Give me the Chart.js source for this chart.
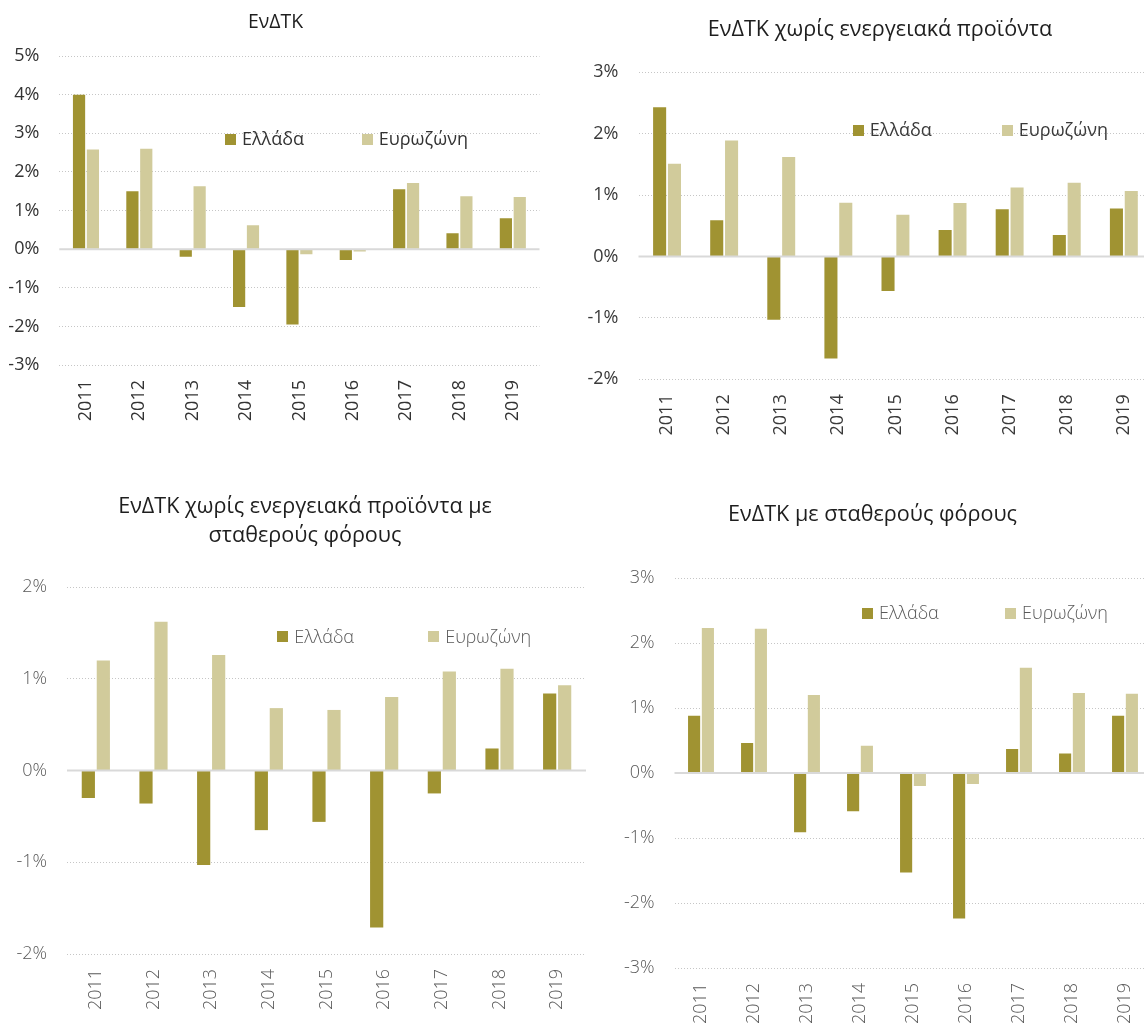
<!DOCTYPE html>
<html lang="el">
<head>
<meta charset="utf-8">
<title>ΕνΔΤΚ: Ελλάδα και Ευρωζώνη, 2011-2019</title>
<script src="https://cdn.jsdelivr.net/npm/chart.js@4.4.1/dist/chart.umd.min.js"></script>
<style>
  html, body { margin: 0; padding: 0; background: #fff; overflow: hidden; }
  body { width: 1144px; height: 1024px; position: relative; }
  canvas { position: absolute; }
</style>
</head>
<body>
<canvas id="c1"></canvas>
<canvas id="c2"></canvas>
<canvas id="c3"></canvas>
<canvas id="c4"></canvas>
<script>
// Years on the category axis
const years = ['2011', '2012', '2013', '2014', '2015', '2016', '2017', '2018', '2019'];
const seriesNames = ['Ελλάδα', 'Ευρωζώνη'];

// Annual change, %
const hicpGreece = [4.0, 1.5, -0.2, -1.5, -1.95, -0.28, 1.55, 0.41, 0.8];
const hicpEuro   = [2.58, 2.6, 1.63, 0.62, -0.13, -0.06, 1.71, 1.37, 1.35];

const coreGreece = [2.43, 0.59, -1.03, -1.66, -0.56, 0.43, 0.77, 0.35, 0.78];
const coreEuro   = [1.51, 1.89, 1.62, 0.875, 0.68, 0.87, 1.125, 1.2, 1.065];

const coreTaxGreece = [-0.3, -0.36, -1.03, -0.65, -0.56, -1.71, -0.25, 0.24, 0.84];
const coreTaxEuro   = [1.2, 1.62, 1.26, 0.68, 0.66, 0.8, 1.08, 1.11, 0.93];

const hicpTaxGreece = [0.88, 0.46, -0.91, -0.59, -1.53, -2.24, 0.37, 0.3, 0.88];
const hicpTaxEuro   = [2.23, 2.22, 1.2, 0.42, -0.2, -0.17, 1.62, 1.23, 1.22];

// Titles and value-axis ranges
const titles = [
  ['ΕνΔΤΚ'],
  ['ΕνΔΤΚ χωρίς ενεργειακά προϊόντα'],
  ['ΕνΔΤΚ χωρίς ενεργειακά προϊόντα με', 'σταθερούς φόρους'],
  ['ΕνΔΤΚ με σταθερούς φόρους']
];
const yRanges = [[-3, 5], [-2, 3], [-2, 2], [-3, 3]];

const GREECE = '#a09332';
const EURO = '#d1cb9b';
const FONT = '"Open Sans", "Noto Sans", "DejaVu Sans", sans-serif';

// Heading drawn at a fixed point of the canvas, so it can sit off the plot centre
const headingPlugin = {
  id: 'heading',
  afterDraw(chart, args, opts) {
    const { ctx } = chart;
    ctx.save();
    ctx.font = `normal ${opts.size}px ${FONT}`;
    ctx.fillStyle = opts.color;
    ctx.textAlign = 'center';
    ctx.textBaseline = 'middle';
    opts.text.forEach((line, i) => ctx.fillText(line, opts.cx, opts.cy + i * opts.lineHeight));
    ctx.restore();
  }
};

// Solid zero line plus a legend placed inside the plot area
const insidePlugin = {
  id: 'inside',
  afterDatasetsDraw(chart, args, opts) {
    const { ctx, chartArea: a, scales: { y } } = chart;
    const y0 = y.getPixelForValue(0);
    ctx.save();
    ctx.strokeStyle = '#d9d9d9';
    ctx.lineWidth = 2;
    ctx.beginPath();
    ctx.moveTo(a.left, y0);
    ctx.lineTo(a.right, y0);
    ctx.stroke();

    ctx.font = `${opts.weight} 18px ${FONT}`;
    ctx.textBaseline = 'middle';
    ctx.textAlign = 'left';
    const ly = a.top + opts.fy * a.height;
    chart.data.datasets.forEach((ds, i) => {
      const lx = a.left + opts.fx[i] * a.width;
      ctx.fillStyle = ds.backgroundColor;
      ctx.fillRect(Math.round(lx), Math.round(ly - 5.5), 11, 11);
      ctx.fillStyle = opts.color;
      ctx.fillText(ds.label, lx + 17, ly + 1);
    });
    ctx.restore();
  }
};

function makeChart(id, box, greece, euro, title, range, look) {
  const cv = document.getElementById(id);
  cv.width = box.w;
  cv.height = box.h;
  cv.style.left = box.x + 'px';
  cv.style.top = box.y + 'px';
  cv.style.width = box.w + 'px';
  cv.style.height = box.h + 'px';

  return new Chart(cv, {
    type: 'bar',
    data: {
      labels: years,
      datasets: [
        { label: seriesNames[0], data: greece, backgroundColor: GREECE },
        { label: seriesNames[1], data: euro, backgroundColor: EURO }
      ]
    },
    plugins: [insidePlugin, headingPlugin],
    options: {
      responsive: false,
      animation: false,
      devicePixelRatio: 1,
      datasets: { bar: { barPercentage: 0.88, categoryPercentage: 0.52 } },
      layout: {
        autoPadding: false,
        padding: { left: 0, right: box.padR, top: box.padT, bottom: 0 }
      },
      plugins: {
        legend: { display: false },
        tooltip: { enabled: false },
        title: { display: false },
        heading: {
          text: title, cx: box.tx, cy: box.ty, lineHeight: 29,
          size: look.titleSize, color: '#1e1e1e'
        },
        inside: { fx: box.legendX, fy: box.legendY, color: look.tickColor, weight: look.weight }
      },
      scales: {
        x: {
          grid: { display: false, drawTicks: false },
          border: { display: false },
          ticks: {
            autoSkip: false, minRotation: 90, maxRotation: 90, padding: 15,
            color: look.tickColor,
            font: { family: FONT, size: 18, weight: look.weight }
          },
          afterFit(s) { s.height = box.xh; s.paddingLeft = 0; s.paddingRight = 0; }
        },
        y: {
          min: range[0], max: range[1],
          grid: {
            drawTicks: false,
            lineWidth: 1,
            color: (c) => (c.tick && c.tick.value === 0 ? 'rgba(0,0,0,0)' : '#c6c6c6')
          },
          border: { display: false, dash: [1, 2] },
          ticks: {
            stepSize: 1, padding: 20,
            color: look.tickColor,
            font: { family: FONT, size: 18, weight: look.weight },
            callback: (v) => v + '%'
          },
          afterFit(s) { s.width = box.yw; s.paddingTop = 0; s.paddingBottom = 0; }
        }
      }
    }
  });
}

const darkLook = { titleSize: 21.6, tickColor: '#3a3a3a', weight: 'normal' };
const lightLook = { titleSize: 21.6, tickColor: '#595959', weight: '300' };

function drawAll() {
  makeChart('c1',
    { x: 0, y: 0, w: 550, h: 425, padR: 10.5, padT: 56, yw: 59.3, xh: 60, tx: 275.5, ty: 22,
      legendX: [0.345, 0.63], legendY: 0.269 },
    hicpGreece, hicpEuro, titles[0], yRanges[0],
    Object.assign({}, darkLook, { titleSize: 19.4, tickColor: '#333333' }));

  makeChart('c2',
    { x: 580, y: 0, w: 580, h: 440, padR: 7.6, padT: 72.3, yw: 58.5, xh: 60.7, tx: 300, ty: 30,
      legendX: [0.417, 0.707], legendY: 0.189 },
    coreGreece, coreEuro, titles[1], yRanges[1], darkLook);

  makeChart('c3',
    { x: 0, y: 470, w: 600, h: 544, padR: 14, padT: 117, yw: 67, xh: 60, tx: 305, ty: 36.5,
      legendX: [0.405, 0.696], legendY: 0.135 },
    coreTaxGreece, coreTaxEuro, titles[2], yRanges[2], lightLook);

  makeChart('c4',
    { x: 580, y: 470, w: 580, h: 554, padR: 8.5, padT: 108, yw: 94.5, xh: 56, tx: 292.5, ty: 45,
      legendX: [0.393, 0.693], legendY: 0.09 },
    hicpTaxGreece, hicpTaxEuro, titles[3], yRanges[3], lightLook);
}

Promise.all([
  document.fonts.load('18px "Open Sans"'),
  document.fonts.load('300 18px "Open Sans"')
]).then(drawAll, drawAll);
</script>
</body>
</html>
